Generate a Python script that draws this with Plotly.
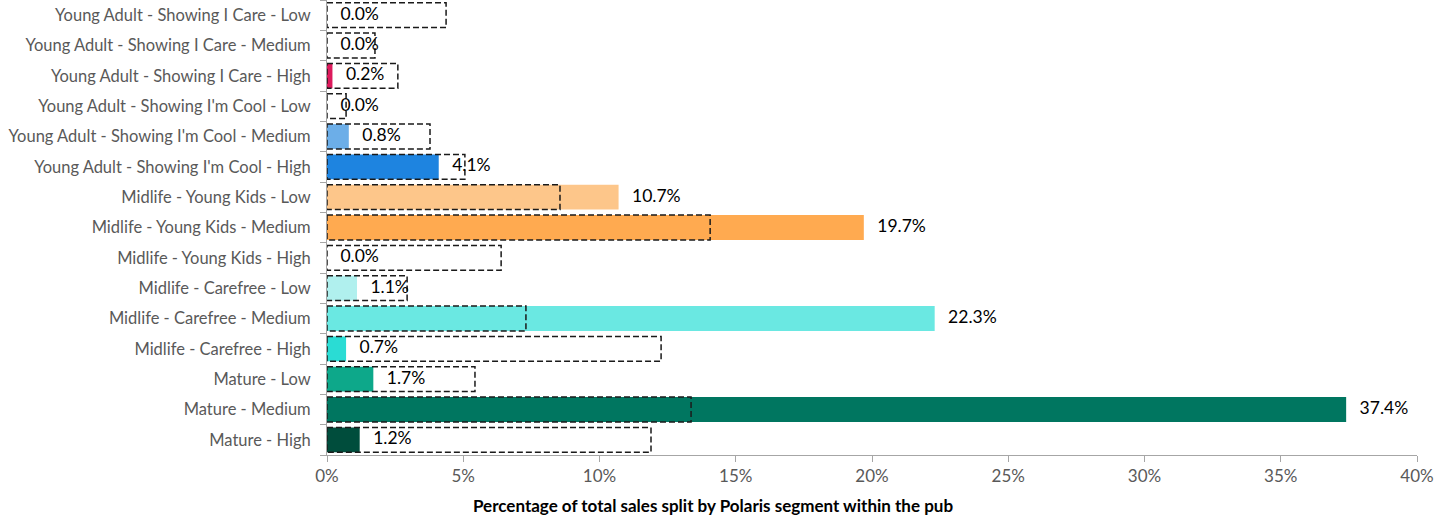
import plotly.graph_objects as go

categories = [
    "Young Adult - Showing I Care - Low",
    "Young Adult - Showing I Care - Medium",
    "Young Adult - Showing I Care - High",
    "Young Adult - Showing I'm Cool - Low",
    "Young Adult - Showing I'm Cool - Medium",
    "Young Adult - Showing I'm Cool - High",
    "Midlife - Young Kids - Low",
    "Midlife - Young Kids - Medium",
    "Midlife - Young Kids - High",
    "Midlife - Carefree - Low",
    "Midlife - Carefree - Medium",
    "Midlife - Carefree - High",
    "Mature - Low",
    "Mature - Medium",
    "Mature - High",
]
pub_share = [0.0, 0.0, 0.2, 0.0, 0.8, 4.1, 10.7, 19.7, 0.0, 1.1, 22.3, 0.7, 1.7, 37.4, 1.2]
benchmark = [4.37, 1.76, 2.6, 0.7, 3.78, 5.06, 8.55, 14.06, 6.39, 2.94, 7.3, 12.26, 5.43, 13.36, 11.89]
colors = [
    "#F6A0BE", "#EC5C8A", "#DC1A5C",
    "#B7D7F5", "#6CAEE8", "#1E84E0",
    "#FDC68A", "#FFAA50", "#F28C28",
    "#B0F0EE", "#6AE8E2", "#2ADCD4",
    "#0DA88A", "#007660", "#004D3C",
]
x_ticks = [0, 5, 10, 15, 20, 25, 30, 35, 40]
x_tick_labels = [f"{v}%" for v in x_ticks]
x_title = "Percentage of total sales split by Polaris segment within the pub"

idx = list(range(len(categories)))
font = "Lato, 'Open Sans', sans-serif"

fig = go.Figure()
fig.add_trace(go.Bar(
    x=pub_share, y=idx, orientation="h", width=0.82,
    marker=dict(color=colors, line=dict(width=0)),
    showlegend=False, hoverinfo="skip",
))

# dashed benchmark boxes
half = 0.41
for i, b in zip(idx, benchmark):
    fig.add_trace(go.Scatter(
        x=[0, b, b, 0, 0], y=[i - half, i - half, i + half, i + half, i - half],
        mode="lines", line=dict(color="#1A1A1A", width=1.5, dash="6px,3px"),
        showlegend=False, hoverinfo="skip", cliponaxis=False,
    ))

fig.add_trace(go.Scatter(
    x=pub_share, y=idx, mode="text",
    text=[f"   {v:.1f}%" for v in pub_share], textposition="middle right",
    textfont=dict(family=font, size=17.5, color="#000000"),
    showlegend=False, hoverinfo="skip", cliponaxis=False,
))

fig.update_layout(
    width=1455, height=520,
    margin=dict(l=327, r=38, t=0, b=65),
    plot_bgcolor="white", paper_bgcolor="white",
    font=dict(family=font, size=16.5, color="#595959"),
    barmode="overlay",
    xaxis=dict(
        range=[0, 40], tickvals=x_ticks, ticktext=x_tick_labels,
        showgrid=False, zeroline=False, showline=True, linecolor="#A6A6A6", linewidth=1,
        ticks="outside", ticklen=6, tickcolor="#A6A6A6",
        tickfont=dict(family=font, size=17, color="#595959"),
    ),
    yaxis=dict(
        range=[14.5, -0.5], tickvals=idx, ticktext=categories,
        showgrid=False, zeroline=False, showline=True, linecolor="#A6A6A6", linewidth=1,
        ticks="", ticklabelstandoff=12,
        minor=dict(tick0=0.5, dtick=1, ticks="outside", ticklen=6, tickcolor="#A6A6A6", showgrid=False),
        tickfont=dict(family=font, size=16.5, color="#595959"),
    ),
    annotations=[dict(
        text=f"<b>{x_title}</b>", xref="paper", yref="paper",
        x=(713 - 327) / 1090, y=-(505 - 455) / 455, xanchor="center", yanchor="middle",
        showarrow=False, font=dict(family=font, size=17, color="#000000"),
    )],
)

fig.write_html("out.html")
